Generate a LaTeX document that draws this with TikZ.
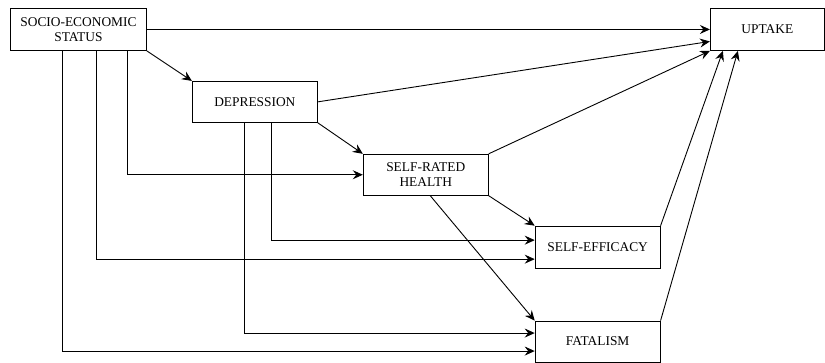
\documentclass[tikz,border=0pt]{standalone}
\usepackage{fontspec}
\setmainfont{Liberation Serif}
\usepackage{tikz}
\usetikzlibrary{arrows.meta,positioning}

\begin{document}
\begin{tikzpicture}[->,>={Stealth[length=10pt,width=9pt,inset=3.5pt]},
                    line width=0.9pt,x=1pt,y=1pt]
\tikzstyle{every node}=[font=\fontsize{13.4}{14.5}\selectfont]
\tikzstyle{var}=[draw,rectangle,align=center,inner sep=0pt,
                 minimum width=125pt,minimum height=41pt]
\useasboundingbox (0,0) rectangle (825,-362);
\node[var,minimum width=136pt,minimum height=42pt,anchor=north west]
      (SES) at (10,-8) {SOCIO-ECONOMIC\\STATUS};
\node[var] (DEP) [below right=30pt and 45pt of SES.south east,anchor=north west] {DEPRESSION};
\node[var] (SRH) [below right=31pt and 45pt of DEP.south east,anchor=north west] {SELF-RATED\\HEALTH};
\node[var,minimum height=42pt] (SE) [below right=30pt and 46pt of SRH.south east,anchor=north west] {SELF-EFFICACY};
\node[var] (FAT) [below=52pt of SE] {FATALISM};
\node[var,minimum width=114pt,minimum height=42pt] (UP) [right=563pt of SES.north east,anchor=north west] {UPTAKE};

% direct paths to uptake
\draw (SES.east |- UP.west) -- (UP.west);
\draw (DEP.east) -- ([yshift=-12pt]UP.west);
\draw (SRH.north east) -- (UP.south west);
\draw (SE.north east) -- ([xshift=13pt]UP.south west);
\draw (FAT.north east) -- ([xshift=28pt]UP.south west);

% diagonal paths
\draw (SES.south east) -- (DEP.north west);
\draw (DEP.south east) -- (SRH.north west);
\draw (SRH.south east) -- (SE.north west);
\draw ([xshift=4.5pt]SRH.south) -- (FAT.north west);

% elbow paths
\draw ([xshift=117pt]SES.south west) |- (SRH.west);
\draw ([xshift=86pt]SES.south west) |- ([yshift=-12pt]SE.west);
\draw ([xshift=52pt]SES.south west) |- ([yshift=-9.5pt]FAT.west);
\draw ([xshift=80pt]DEP.south west) |- ([yshift=7pt]SE.west);
\draw ([xshift=53pt]DEP.south west) |- ([yshift=8.5pt]FAT.west);
\end{tikzpicture}
\end{document}
